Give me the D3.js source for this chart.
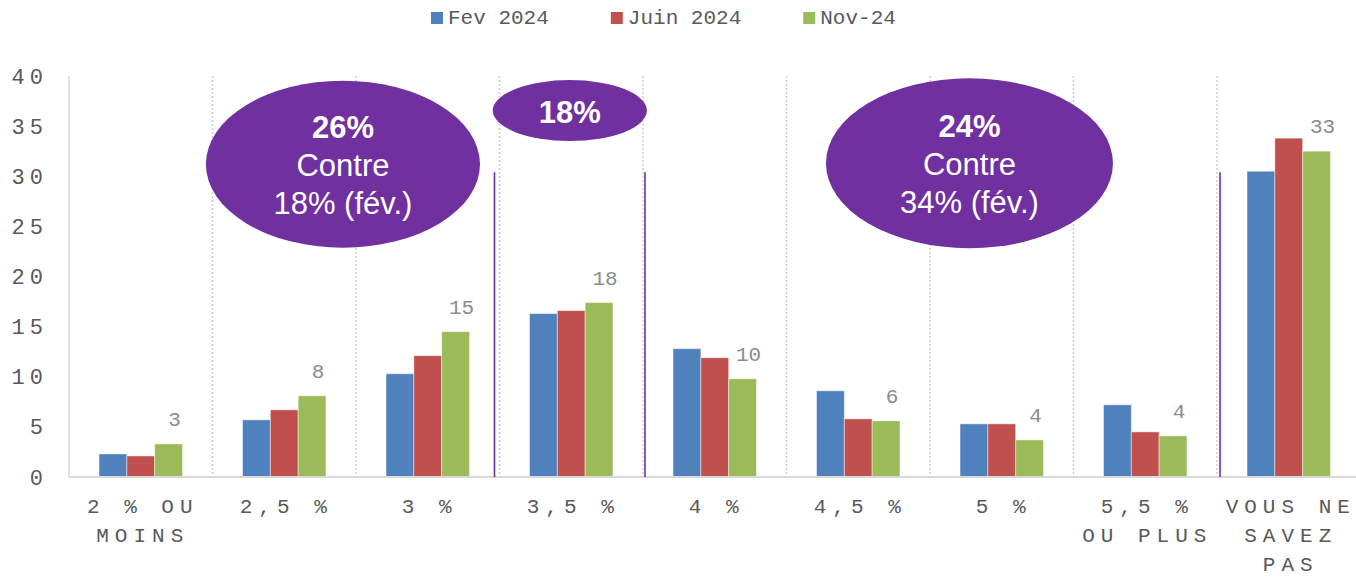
<!DOCTYPE html>
<html>
<head>
<meta charset="utf-8">
<script src="https://cdn.jsdelivr.net/npm/d3@7/dist/d3.min.js"></script>
<style>
  body { margin: 0; background: #fff; }
  svg { display: block; }
</style>
</head>
<body>
<script>
// categories, line breaks where the original chart wrapped them
var categories = ["2 % OU\nMOINS", "2,5 %", "3 %", "3,5 %", "4 %", "4,5 %", "5 %", "5,5 %\nOU PLUS", "VOUS NE\nSAVEZ\nPAS"];
var seriesNames = ["Fev 2024", "Juin 2024", "Nov-24"];

// values
var fev2024  = [2.3, 5.7, 10.3, 16.3, 12.8, 8.6, 5.3, 7.2, 30.5];
var juin2024 = [2.1, 6.7, 12.1, 16.6, 11.9, 5.8, 5.3, 4.5, 33.8];
var nov24    = [3.3, 8.1, 14.5, 17.4, 9.8, 5.6, 3.7, 4.1, 32.5];
var nov24Labels = ["3", "8", "15", "18", "10", "6", "4", "4", "33"];

var yTicks = [0, 5, 10, 15, 20, 25, 30, 35, 40];

// text of the purple call-outs
var bubbleLeft  = ["26%", "Contre", "18% (fév.)"];
var bubbleMid   = ["18%"];
var bubbleRight = ["24%", "Contre", "34% (fév.)"];

var colors = ["#4F81BD", "#C0504D", "#9BBB59"];
var purple = "#7030A0";
var monoFont = "'Liberation Mono', 'Courier New', monospace";
var sansFont = "'Liberation Sans', Arial, sans-serif";

var w = 1356;
var h = 578;
var catGap = 6;   // letter spacing of category labels
var tickGap = 5;  // letter spacing of y tick labels

var svg = d3.select("body")
            .append("svg")
            .attr("width", w)
            .attr("height", h);

// scales
var x0 = d3.scaleBand()
    .domain(categories)
    .range([69, 1360.5])
    .padding(0);

var x1 = d3.scaleBand()
    .domain(seriesNames)
    .range([0, x0.bandwidth()])
    .paddingInner(0)
    .paddingOuter(1.08);

var y = d3.scaleLinear()
    .domain([0, 40])
    .range([477, 76]);

// dotted separators between categories
svg.append("g")
   .selectAll("line")
   .data(categories.slice(1))
   .enter()
   .append("line")
   .attr("x1", function(d) { return x0(d); })
   .attr("x2", function(d) { return x0(d); })
   .attr("y1", y(40))
   .attr("y2", y(0))
   .attr("stroke", "#cfcfcf")
   .attr("stroke-width", 1.5)
   .attr("stroke-dasharray", "2,2");

// left axis line
svg.append("line")
   .attr("x1", 69).attr("x2", 69)
   .attr("y1", y(40)).attr("y2", y(0))
   .attr("stroke", "#d9d9d9")
   .attr("stroke-width", 1.5);

// y axis labels
var yAxis = svg.append("g")
    .attr("transform", "translate(69,0)")
    .call(d3.axisLeft(y).tickValues(yTicks).tickSize(0).tickPadding(21));
yAxis.select(".domain").remove();
yAxis.selectAll("text")
     .attr("fill", "#595959")
     .style("font-family", monoFont)
     .style("font-size", "22px")
     .style("letter-spacing", tickGap + "px");

// bars
var rows = categories.map(function(c, i) {
    return { cat: c, values: [fev2024[i], juin2024[i], nov24[i]] };
});

var groups = svg.append("g")
    .selectAll("g")
    .data(rows)
    .enter()
    .append("g")
    .attr("transform", function(d) { return "translate(" + x0(d.cat) + ",0)"; });

groups.selectAll("rect")
      .data(function(d) {
          return d.values.map(function(v, k) { return { name: seriesNames[k], value: v, k: k }; });
      })
      .enter()
      .append("rect")
      .attr("x", function(d) { return x1(d.name); })
      .attr("width", x1.bandwidth())
      .attr("y", function(d) { return y(d.value); })
      .attr("height", function(d) { return y(0) - y(d.value); })
      .attr("fill", function(d) { return colors[d.k]; })
      .attr("stroke", "#ffffff")
      .attr("stroke-opacity", 0.45)
      .attr("stroke-width", 1);

// data labels only on Nov-24
svg.append("g")
   .selectAll("text")
   .data(categories)
   .enter()
   .append("text")
   .attr("x", function(d) { return x0(d) + x1("Nov-24") + x1.bandwidth() / 2 + 6; })
   .attr("y", function(d, i) { return y(nov24[i]) - 18; })
   .attr("text-anchor", "middle")
   .attr("fill", "#8c8c8c")
   .style("font-family", monoFont)
   .style("font-size", "21px")
   .text(function(d, i) { return nov24Labels[i]; });

// bottom axis line
svg.append("line")
   .attr("x1", 69).attr("x2", w)
   .attr("y1", y(0)).attr("y2", y(0))
   .attr("stroke", "#d9d9d9")
   .attr("stroke-width", 2);

// category labels, wrapped
var catLabels = svg.append("g")
    .selectAll("text")
    .data(categories)
    .enter()
    .append("text")
    .attr("text-anchor", "middle")
    .attr("fill", "#595959")
    .style("font-family", monoFont)
    .style("font-size", "21px")
    .style("letter-spacing", catGap + "px");

catLabels.each(function(d) {
    var t = d3.select(this);
    var cx = x0(d) + x0.bandwidth() / 2 + catGap / 2 - 1;
    d.split("\n").forEach(function(line, i) {
        t.append("tspan")
         .attr("x", cx)
         .attr("y", 513 + i * 29)
         .text(line);
    });
});

// purple vertical markers
var markers = [
    { x: x0(categories[3]) - 5, top: 30.4 },
    { x: x0(categories[4]) + 2, top: 30.4 },
    { x: x0(categories[8]) + 3, top: 30.4 }
];
svg.append("g")
   .selectAll("line")
   .data(markers)
   .enter()
   .append("line")
   .attr("x1", function(d) { return d.x; })
   .attr("x2", function(d) { return d.x; })
   .attr("y1", function(d) { return y(d.top); })
   .attr("y2", y(0))
   .attr("stroke", purple)
   .attr("stroke-width", 1.6);

// purple call-outs (centre in band units / value units)
var step = x0.step();
var bubbles = [
    { cx: 69 + 1.909 * step, cy: y(31.2), rx: 0.955 * step, ry: y(0) - y(8.33), lines: bubbleLeft },
    { cx: 69 + 3.49 * step,  cy: y(36.55), rx: 0.537 * step, ry: y(0) - y(3.04), lines: bubbleMid },
    { cx: 69 + 6.275 * step, cy: y(31.3), rx: 1.0 * step,   ry: y(0) - y(8.47), lines: bubbleRight }
];

var b = svg.append("g")
    .selectAll("g")
    .data(bubbles)
    .enter()
    .append("g");

b.append("ellipse")
 .attr("cx", function(d) { return d.cx; })
 .attr("cy", function(d) { return d.cy; })
 .attr("rx", function(d) { return d.rx; })
 .attr("ry", function(d) { return d.ry; })
 .attr("fill", purple);

b.each(function(d) {
    var g = d3.select(this);
    var n = d.lines.length;
    d.lines.forEach(function(line, i) {
        g.append("text")
         .attr("x", d.cx)
         .attr("y", d.cy + 12 + (i - (n - 1) / 2) * 38)
         .attr("text-anchor", "middle")
         .attr("fill", "#ffffff")
         .style("font-family", sansFont)
         .style("font-size", "31px")
         .style("font-weight", i === 0 ? "bold" : "normal")
         .text(line);
    });
});

// legend
var legend = svg.append("g").attr("transform", "translate(431,0)");
var lx = 0;
seriesNames.forEach(function(name, k) {
    var item = legend.append("g").attr("transform", "translate(" + lx + ",0)");
    item.append("rect")
        .attr("x", 0).attr("y", 12)
        .attr("width", 12).attr("height", 12)
        .attr("fill", colors[k]);
    var t = item.append("text")
        .attr("x", 17).attr("y", 24)
        .attr("fill", "#595959")
        .style("font-family", monoFont)
        .style("font-size", "21px")
        .text(name);
    lx += 17 + t.node().getComputedTextLength() + 62;
});
</script>
</body>
</html>
